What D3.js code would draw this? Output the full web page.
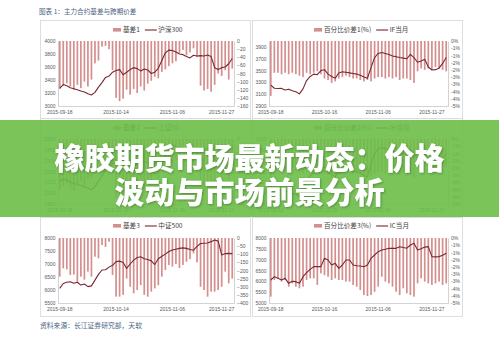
<!DOCTYPE html>
<html>
<head>
<meta charset="utf-8">
<script src="https://cdn.jsdelivr.net/npm/d3@7/dist/d3.min.js"></script>
<style>
  html, body { margin: 0; padding: 0; background: #fff; }
  svg { display: block; }
</style>
</head>
<body>
<div id="chart"></div>
<script>
// Categories: 50 trading days, labelled every ~15 bars
const days = d3.range(50);
const leftTickIdx = [0, 16, 32, 46];
const rightTickIdx = [0, 15, 30, 45];
const leftDates = ["2015-09-18", "2015-10-14", "2015-11-06", "2015-11-27"];
const rightDates = ["2015-09-18", "2015-10-16", "2015-11-06", "2015-11-27"];

// Row 1 left: 基差1 / 沪深300
const basis1 = [-118, -110, -104, -112, -120, -108, -116, -100, -112, -95, -55, -48, -14, -12, -20, -72, -140, -148, -142, -120,
  -132, -118, -128, -112, -122, -105, -98, -88, -92, -76, -70, -62, -55, -50, -30, -22, -35, -28, -18, -40,
  -110, -122, -118, -125, -108, -80, -86, -72, -95, -68];
const hs300 = [3275, 3330, 3310, 3280, 3265, 3250, 3230, 3215, 3190, 3170, 3210, 3290, 3360, 3440, 3460, 3520, 3545, 3560, 3480, 3520,
  3560, 3590, 3575, 3540, 3570, 3555, 3500, 3520, 3580, 3700, 3820, 3860, 3855, 3830, 3800, 3790, 3760, 3740, 3780, 3770,
  3775, 3770, 3785, 3760, 3590, 3560, 3590, 3600, 3650, 3730];

// Row 1 right: 百分比价差1(%) / IF当月
const pct1 = [-3.8, -2.2, -2.2, -2.3, -2.2, -2.3, -2.2, -2.3, -2.4, -2.5, -2.2, -2.3, -2.2, -2.1, -2.3, -2.6, -2.7, -2.9, -2.8, -2.6,
  -2.5, -2.4, -2.5, -2.6, -2.6, -2.7, -2.8, -2.7, -2.8, -2.6, -2.5, -2.5, -2.6, -2.5, -2.6, -2.5, -2.7, -2.6, -2.6, -2.7,
  -2.9, -2.1, -1.9, -2.0, -1.9, -2.0, -1.8, -1.9, -2.0, -2.1];
const ifMonth = [3254, 3200, 3195, 3198, 3170, 3185, 3158, 3140, 3105, 3190, 3330, 3400, 3440, 3430, 3500, 3515, 3440, 3400, 3370, 3460,
  3478, 3470, 3460, 3450, 3440, 3420, 3390, 3370, 3550, 3720, 3790, 3805, 3790, 3770, 3745, 3735, 3720, 3710, 3700, 3775,
  3720, 3640, 3660, 3690, 3560, 3510, 3515, 3540, 3620, 3720];

// Row 2 left: 基差2 / 上证50 (mostly under the banner)
const basis2 = [-62, -58, -55, -60, -64, -57, -52, -60, -50, -48, -30, -26, -8, -7, -12, -40, -72, -76, -73, -62,
  -68, -60, -66, -58, -63, -55, -50, -45, -48, -40, -36, -32, -28, -26, -16, -12, -18, -15, -10, -22,
  -58, -64, -62, -66, -56, -42, -45, -38, -50, -36];
const sz50 = [2110, 2130, 2120, 2100, 2090, 2080, 2070, 2060, 2045, 2030, 2060, 2110, 2160, 2210, 2240, 2270, 2280, 2290, 2250, 2270,
  2290, 2300, 2295, 2280, 2290, 2285, 2260, 2270, 2300, 2370, 2430, 2450, 2445, 2430, 2420, 2415, 2400, 2390, 2410, 2405,
  2410, 2405, 2415, 2400, 2310, 2290, 2305, 2310, 2340, 2380];

// Row 2 right: 百分比价差2(%) / IH当月
const pct2 = [-3.2, -2.0, -2.1, -2.0, -2.2, -2.1, -2.0, -2.2, -2.3, -2.4, -2.1, -2.2, -2.0, -1.9, -2.1, -2.4, -2.5, -2.7, -2.6, -2.4,
  -2.3, -2.2, -2.3, -2.4, -2.4, -2.5, -2.6, -2.5, -2.6, -2.4, -2.3, -2.3, -2.4, -2.3, -2.4, -2.3, -2.5, -2.4, -2.4, -2.5,
  -2.7, -1.9, -1.8, -1.9, -1.8, -1.9, -1.7, -1.8, -1.9, -2.0];
const ihMonth = [2060, 2030, 2025, 2028, 2010, 2020, 2000, 1990, 1970, 2020, 2110, 2160, 2190, 2185, 2230, 2240, 2190, 2170, 2150, 2210,
  2225, 2220, 2210, 2205, 2200, 2185, 2165, 2150, 2270, 2370, 2410, 2420, 2410, 2400, 2385, 2380, 2370, 2365, 2360, 2400,
  2370, 2320, 2330, 2350, 2270, 2240, 2245, 2260, 2310, 2370];

// Row 3 left: 基差3 / 中证500
const basis3 = [-238, -187, -193, -228, -225, -269, -238, -256, -207, -238, -115, -125, -43, -55, -23, -228, -361, -361, -350, -250,
  -300, -340, -320, -290, -350, -361, -330, -310, -290, -238, -197, -166, -176, -160, -185, -166, -146, -130, -94, -150,
  -300, -320, -361, -330, -330, -320, -300, -207, -279, -250];
const zz500 = [6060, 6250, 6300, 6320, 6260, 6300, 6190, 6230, 6130, 6160, 6380, 6600, 6770, 6780, 6880, 6950, 7090, 7110, 7060, 6830,
  7000, 7150, 7250, 7280, 7200, 7170, 7120, 6980, 7200, 7300, 7380, 7480, 7540, 7570, 7600, 7620, 7600, 7560, 7530, 7680,
  7790, 7800, 7810, 7860, 7920, 7880, 7350, 7400, 7410, 7400];

// Row 3 right: 百分比价差3(%) / IC当月
const pct3 = [-4.06, -2.91, -2.79, -3.02, -2.91, -3.37, -3.14, -3.37, -3.48, -3.37, -2.91, -2.79, -2.79, -3.25, -2.45, -2.57, -2.68, -2.91, -2.79, -2.91,
  -2.91, -3.02, -3.02, -3.25, -3.37, -3.60, -3.95, -4.02, -3.95, -3.72, -3.37, -2.68, -3.02, -3.14, -3.37, -3.72, -3.95, -3.48, -3.83, -3.95,
  -4.06, -3.14, -2.79, -3.02, -3.14, -3.25, -3.14, -3.02, -3.25, -3.14];
const icMonth = [6062, 6215, 6138, 6062, 6138, 5908, 6000, 5985, 5908, 6215, 6400, 6550, 6680, 6677, 6680, 7062, 6985, 6754, 6830, 6600,
  6754, 6985, 6985, 6754, 6720, 6710, 6677, 6754, 7062, 7215, 7369, 7446, 7480, 7523, 7523, 7523, 7600, 7560, 7530, 7677,
  7754, 7446, 7500, 7580, 7600, 7140, 7130, 7140, 7200, 7300];

// Axis tick values and labels
const ticks1L = [3000, 3200, 3400, 3600, 3800, 4000];
const ticks1R = [0, -20, -40, -60, -80, -100, -120, -140, -160];
const ticks2L = [2900, 3100, 3300, 3500, 3700, 3900];
const ticksMidL = [1900, 2000, 2100, 2200, 2300, 2400, 2500];
const ticksMidR = [0, -10, -20, -30, -40, -50, -60, -70, -80];
const ticks3L = [5500, 6000, 6500, 7000, 7500, 8000];
const ticks3R = [0, -50, -100, -150, -200, -250, -300, -350, -400];
const ticks4L = [5000, 5500, 6000, 6500, 7000, 7500, 8000];
const pctTicks = [0, -0.5, -1, -1.5, -2, -2.5, -3, -3.5, -4, -4.5];
const pctTickLabels = ["0%", "-1%", "-1%", "-2%", "-2%", "-3%", "-3%", "-4%", "-4%", "-5%"];

const W = 499, H = 338;
const BAR_COLOR = "#d48e8e";
const LINE_COLOR = "#7a2730";
const AXIS_COLOR = "#c8c8c8";
const TEXT_COLOR = "#595959";
const NUM_FONT = "'Liberation Sans', Arial, sans-serif";
const CJK_FONT = "'Noto Sans CJK SC', 'Liberation Sans', sans-serif";

const svg = d3.select("#chart").append("svg")
  .attr("width", W).attr("height", H)
  .attr("viewBox", `0 0 ${W} ${H}`);

svg.append("rect").attr("width", W).attr("height", H).attr("fill", "#fff");

svg.append("text")
  .attr("x", 39).attr("y", 14)
  .attr("font-family", CJK_FONT).attr("font-size", 6.6)
  .attr("fill", "#4d6283")
  .text("图表 1：主力合约基差与跨期价差");

svg.append("text")
  .attr("x", 40).attr("y", 328)
  .attr("font-family", CJK_FONT).attr("font-size", 6.8)
  .attr("fill", "#4d6283")
  .text("资料来源：长江证券研究部，天软");

// Layout
const cols = [
  { box: [40, 250], plot: [58, 234], legendX: 113, dates: leftDates, tickIdx: leftTickIdx },
  { box: [252, 462], plot: [269, 448], legendX: 314, dates: rightDates, tickIdx: rightTickIdx }
];
const rows = [
  { box: [20, 118], top: 41, bottom: 106, legendY: 30 },
  { box: [118, 216], top: 139, bottom: 204, legendY: 128 },
  { box: [217, 316], top: 238, bottom: 303, legendY: 226 }
];

const panels = [
  { col: 0, row: 0, bars: basis1, line: hs300, barName: "基差1", lineName: "沪深300",
    left: [3000, 4000], leftTicks: ticks1L, right: [-160, 0], rightTicks: ticks1R },
  { col: 1, row: 0, bars: pct1, line: ifMonth, barName: "百分比价差1(%)", lineName: "IF当月",
    left: [2900, 4000], leftTicks: ticks2L, right: [-4.5, 0], rightTicks: pctTicks, rightLabels: pctTickLabels },
  { col: 0, row: 1, bars: basis2, line: sz50, barName: "基差2", lineName: "上证50",
    left: [1900, 2500], leftTicks: ticksMidL, right: [-80, 0], rightTicks: ticksMidR },
  { col: 1, row: 1, bars: pct2, line: ihMonth, barName: "百分比价差2(%)", lineName: "IH当月",
    left: [1900, 2500], leftTicks: ticksMidL, right: [-4.5, 0], rightTicks: pctTicks, rightLabels: pctTickLabels },
  { col: 0, row: 2, bars: basis3, line: zz500, barName: "基差3", lineName: "中证500",
    left: [5500, 8000], leftTicks: ticks3L, right: [-400, 0], rightTicks: ticks3R },
  { col: 1, row: 2, bars: pct3, line: icMonth, barName: "百分比价差3(%)", lineName: "IC当月",
    left: [5000, 8000], leftTicks: ticks4L, right: [-4.5, 0], rightTicks: pctTicks, rightLabels: pctTickLabels }
];

function styleAxis(g) {
  g.select(".domain").attr("stroke", AXIS_COLOR).attr("stroke-width", 0.8);
  g.selectAll("text")
    .attr("font-family", NUM_FONT).attr("font-size", 5)
    .attr("fill", TEXT_COLOR);
}

function drawPanel(p) {
  const c = cols[p.col], r = rows[p.row];
  const g = svg.append("g").attr("class", "panel");

  g.append("rect")
    .attr("x", c.box[0] + 0.5).attr("y", r.box[0] + 0.5)
    .attr("width", c.box[1] - c.box[0]).attr("height", r.box[1] - r.box[0])
    .attr("fill", "#fff").attr("stroke", "#d6d6d6").attr("stroke-width", 0.8);

  const x = d3.scaleBand().domain(days).range(c.plot);
  const yL = d3.scaleLinear().domain(p.left).range([r.bottom, r.top]);
  const yR = d3.scaleLinear().domain(p.right).range([r.bottom, r.top]);
  const bw = 1.7;

  // bars hang from zero at the top
  g.append("g").selectAll("rect")
    .data(p.bars)
    .join("rect")
    .attr("x", (d, i) => x(i) + (x.bandwidth() - bw) / 2)
    .attr("y", yR(0))
    .attr("width", bw)
    .attr("height", d => yR(d) - yR(0))
    .attr("fill", BAR_COLOR);

  // axes
  const axL = g.append("g").attr("transform", `translate(${c.plot[0]},0)`)
    .call(d3.axisLeft(yL).tickValues(p.leftTicks).tickSize(0).tickPadding(2.5).tickFormat(d3.format("d")));
  styleAxis(axL);

  const rightFmt = p.rightLabels ? (d, k) => p.rightLabels[k] : d3.format("d");
  const axR = g.append("g").attr("transform", `translate(${c.plot[1]},0)`)
    .call(d3.axisRight(yR).tickValues(p.rightTicks).tickSize(0).tickPadding(3).tickFormat(rightFmt));
  styleAxis(axR);

  const axB = g.append("g").attr("transform", `translate(0,${r.bottom})`)
    .call(d3.axisBottom(x).tickValues(c.tickIdx).tickSize(0).tickPadding(4.5)
      .tickFormat((d, k) => c.dates[k]));
  styleAxis(axB);

  // line
  const line = d3.line()
    .x((d, i) => x(i) + x.bandwidth() / 2)
    .y(d => yL(d));
  g.append("path")
    .datum(p.line)
    .attr("d", line)
    .attr("fill", "none")
    .attr("stroke", LINE_COLOR)
    .attr("stroke-width", 1.1)
    .attr("stroke-linejoin", "round");

  // legend
  const lg = g.append("g").attr("transform", `translate(${c.legendX},${r.legendY})`);
  lg.append("rect").attr("x", 0).attr("y", -2).attr("width", 8).attr("height", 3.6).attr("fill", BAR_COLOR);
  const t1 = lg.append("text").attr("x", 10).attr("y", 2.3)
    .attr("font-family", CJK_FONT).attr("font-size", 6.6).attr("fill", "#404040")
    .text(p.barName);
  const w1 = t1.node().getComputedTextLength();
  const lx = 10 + w1 + 5;
  lg.append("line").attr("x1", lx).attr("x2", lx + 12).attr("y1", 0).attr("y2", 0)
    .attr("stroke", LINE_COLOR).attr("stroke-width", 1.1);
  lg.append("text").attr("x", lx + 13.5).attr("y", 2.3)
    .attr("font-family", CJK_FONT).attr("font-size", 6.6).attr("fill", "#404040")
    .text(p.lineName);
}

panels.forEach(drawPanel);

// Green headline banner over the middle row
const defs = svg.append("defs");
const shadow = defs.append("filter").attr("id", "txtShadow")
  .attr("x", "-10%").attr("y", "-20%").attr("width", "120%").attr("height", "140%");
shadow.append("feDropShadow")
  .attr("dx", 0.8).attr("dy", 1).attr("stdDeviation", 1)
  .attr("flood-color", "#2f5a1f").attr("flood-opacity", 0.55);

svg.append("rect")
  .attr("x", 0).attr("y", 120).attr("width", W).attr("height", 97)
  .attr("fill", "rgb(108,190,72)").attr("opacity", 0.9);

const headline = ["橡胶期货市场最新动态：价格", "波动与市场前景分析"];
svg.append("g").selectAll("text")
  .data(headline)
  .join("text")
  .attr("x", W / 2)
  .attr("y", (d, i) => 169 + i * 34)
  .attr("text-anchor", "middle")
  .attr("font-family", "'Noto Sans CJK SC', sans-serif")
  .attr("font-weight", 900)
  .attr("font-size", 30)
  .attr("fill", "#fff")
  .attr("filter", "url(#txtShadow)")
  .text(d => d);
</script>
</body>
</html>
